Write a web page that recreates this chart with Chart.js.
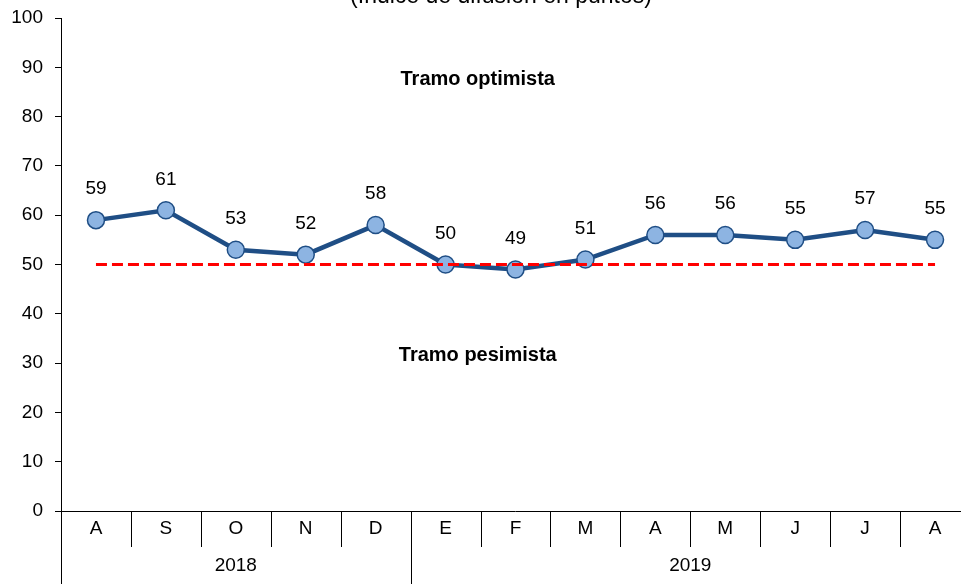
<!DOCTYPE html>
<html>
<head>
<meta charset="utf-8">
<script src="https://cdn.jsdelivr.net/npm/chart.js@4.4.0/dist/chart.umd.min.js"></script>
<style>
  html, body { margin: 0; padding: 0; background: #fff; overflow: hidden; width: 961px; height: 584px; }
  canvas { display: block; }
</style>
</head>
<body>
<canvas id="chart" width="980" height="584"></canvas>
<script>
// ── Datos ────────────────────────────────────────────────────
const months = ['A', 'S', 'O', 'N', 'D', 'E', 'F', 'M', 'A', 'M', 'J', 'J', 'A'];
const years = ['2018', '2019'];
const yearSpans = [5, 8];
const indice = [59, 61, 53, 52, 58, 50, 49, 51, 56, 56, 55, 57, 55];
const umbral = [50, 50, 50, 50, 50, 50, 50, 50, 50, 50, 50, 50, 50];
const subtitle = '(Índice de difusión en puntos)';
const zoneLabels = ['Tramo optimista', 'Tramo pesimista'];

const FONT = '"Liberation Sans", Arial, sans-serif';

// ── Plugin: eje x en dos niveles, etiquetas y textos ─────────
const extras = {
  id: 'extras',
  afterDatasetsDraw(chart) {
    const ctx = chart.ctx;
    const ca = chart.chartArea;
    const x = chart.scales.x, y = chart.scales.y;
    const w = x.getPixelForValue(1) - x.getPixelForValue(0);
    const rowH = 36;

    ctx.save();
    // eje horizontal
    ctx.strokeStyle = '#000';
    ctx.lineWidth = 1;
    ctx.beginPath();
    ctx.moveTo(ca.left, Math.round(ca.bottom) + 0.5);
    ctx.lineTo(ca.right, Math.round(ca.bottom) + 0.5);
    ctx.stroke();

    // separadores de meses / años
    const bounds = [0];
    yearSpans.forEach((s, i) => bounds.push(bounds[i] + s));
    for (let i = 0; i <= months.length; i++) {
      const px = Math.round(x.getPixelForValue(i) - w / 2) + 0.5;
      const long = bounds.includes(i);
      ctx.beginPath();
      ctx.moveTo(px, ca.bottom);
      ctx.lineTo(px, long ? chart.height : ca.bottom + rowH);
      ctx.stroke();
    }

    ctx.fillStyle = '#000';
    ctx.textAlign = 'center';
    ctx.textBaseline = 'middle';
    ctx.font = '19px ' + FONT;
    months.forEach((m, i) => ctx.fillText(m, x.getPixelForValue(i), ca.bottom + 18));
    years.forEach((yr, i) => {
      const mid = (bounds[i] + bounds[i + 1] - 1) / 2;
      ctx.fillText(yr, x.getPixelForValue(mid), ca.bottom + rowH + 19);
    });

    // etiquetas de datos
    const meta = chart.getDatasetMeta(1);
    meta.data.forEach((pt, i) => {
      ctx.fillText(String(indice[i]), pt.x, pt.y - 31);
    });

    // textos de tramo
    ctx.font = 'bold 20px ' + FONT;
    ctx.fillText(zoneLabels[0], x.getPixelForValue(5.46), y.getPixelForValue(87.5));
    ctx.fillText(zoneLabels[1], x.getPixelForValue(5.46), y.getPixelForValue(31.6));

    // subtítulo (cortado arriba)
    ctx.font = '23px ' + FONT;
    ctx.textBaseline = 'alphabetic';
    ctx.fillText(subtitle, 501, 3);
    ctx.restore();
  }
};

new Chart(document.getElementById('chart'), {
  type: 'line',
  data: {
    labels: months,
    datasets: [
      {
        label: 'Umbral',
        data: umbral,
        borderColor: '#FF0000',
        borderWidth: 3,
        borderDash: [11, 5],
        pointRadius: 0,
        fill: false,
        tension: 0
      },
      {
        label: 'Índice',
        data: indice,
        borderColor: '#1F4E85',
        borderWidth: 4.5,
        pointRadius: 8.5,
        pointBackgroundColor: '#8DB4E2',
        pointBorderColor: '#1F4E85',
        pointBorderWidth: 1.5,
        fill: false,
        tension: 0
      }
    ]
  },
  options: {
    responsive: false,
    animation: false,
    devicePixelRatio: 1,
    layout: { padding: { top: 18, right: 9, bottom: 73, left: 0 } },
    plugins: {
      legend: { display: false },
      tooltip: { enabled: false },
      title: { display: false }
    },
    scales: {
      x: {
        type: 'category',
        offset: true,
        display: false
      },
      y: {
        min: 0,
        max: 100,
        afterFit(s) { s.width = 61; s.paddingTop = 0; s.paddingBottom = 0; },
        ticks: {
          stepSize: 10,
          color: '#000',
          padding: 12,
          font: { family: FONT, size: 19 }
        },
        grid: {
          drawOnChartArea: false,
          drawTicks: true,
          tickLength: 6,
          color: '#000'
        },
        border: { display: true, color: '#000', width: 1 }
      }
    }
  },
  plugins: [extras]
});
</script>
</body>
</html>
